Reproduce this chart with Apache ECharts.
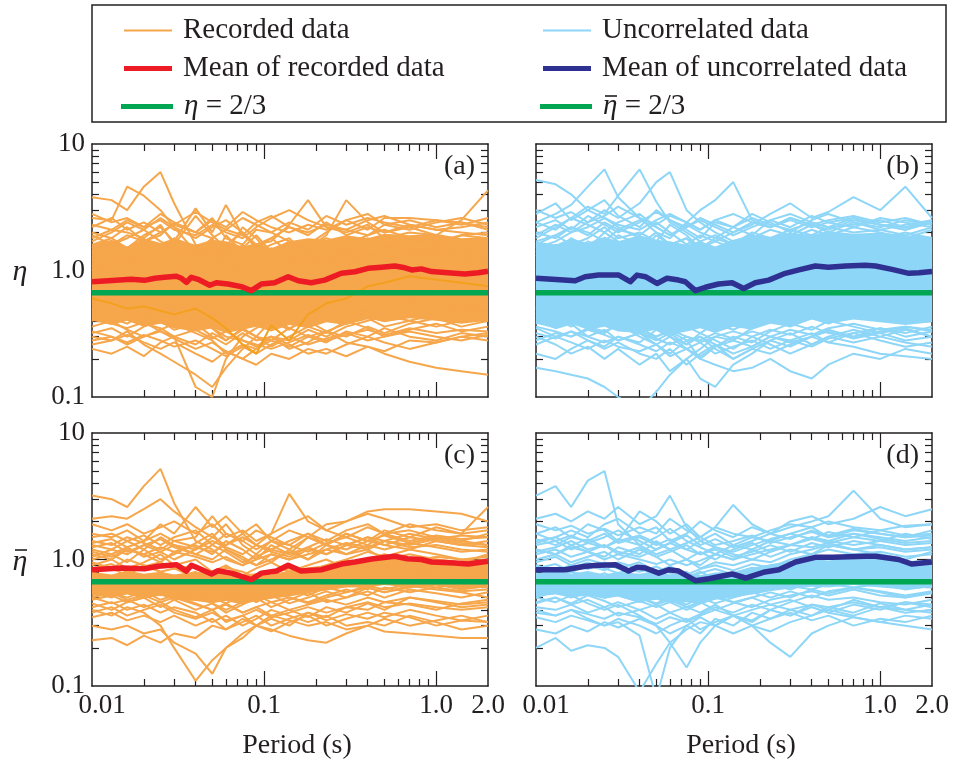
<!DOCTYPE html>
<html>
<head>
<meta charset="utf-8">
<title>eta ratio vs period</title>
<script src="https://cdn.jsdelivr.net/npm/echarts@6/dist/echarts.min.js"></script>
<style>
    html, body { margin: 0; padding: 0; background: #fff; }
    #main { width: 958px; height: 770px; }
</style>
</head>
<body>
<div id="main"></div>
<script>
// periods (s) at which every thin curve is sampled
var periods = [0.01, 0.013, 0.016, 0.02, 0.025, 0.03, 0.04, 0.05, 0.06, 0.075, 0.09, 0.11, 0.14, 0.18, 0.23, 0.3, 0.4, 0.5, 0.7, 1.0, 1.4, 2.0];

// (a) recorded data, eta
var recordedA = [
    [3.8, 3.6, 3.0, 4.6, 6.0, 3.4, 1.6, 1.3, 1.1, 0.9, 0.8, 0.9, 1.0, 1.2, 1.1, 1.3, 1.2, 1.0, 1.1, 0.9, 1.0, 1.1],
    [2.6, 2.5, 4.6, 3.9, 3.0, 2.2, 1.4, 1.8, 1.2, 1.0, 1.1, 1.3, 0.9, 0.8, 1.0, 1.1, 1.4, 1.2, 1.3, 1.5, 1.2, 1.3],
    [2.3, 2.1, 2.0, 1.8, 2.3, 1.6, 2.7, 1.9, 1.5, 1.2, 1.4, 1.6, 1.8, 1.3, 1.1, 1.5, 1.7, 1.6, 1.4, 1.3, 1.5, 1.6],
    [1.6, 1.8, 1.5, 1.9, 2.2, 1.7, 3.1, 2.0, 3.3, 1.9, 1.6, 1.7, 2.3, 3.6, 2.2, 2.0, 2.3, 1.8, 2.0, 1.9, 1.7, 1.8],
    [1.2, 1.4, 1.1, 1.3, 1.0, 1.2, 1.4, 1.1, 1.6, 2.0, 1.5, 1.8, 1.4, 1.6, 2.0, 2.5, 2.1, 2.6, 2.6, 2.5, 2.4, 2.2],
    [1.0, 1.1, 1.3, 1.2, 1.5, 1.4, 1.2, 1.6, 1.3, 1.5, 1.9, 1.4, 1.7, 1.5, 1.9, 3.6, 2.4, 2.0, 2.2, 1.9, 2.5, 4.3],
    [0.45, 0.5, 0.42, 0.38, 0.35, 0.3, 0.12, 0.1, 0.2, 0.3, 0.35, 0.4, 0.45, 0.38, 0.5, 0.55, 0.48, 0.52, 0.6, 0.55, 0.5, 0.58],
    [0.3, 0.28, 0.33, 0.26, 0.22, 0.19, 0.15, 0.12, 0.17, 0.24, 0.3, 0.28, 0.35, 0.4, 0.33, 0.38, 0.42, 0.36, 0.4, 0.45, 0.42, 0.4],
    [0.24, 0.22, 0.25, 0.21, 0.27, 0.3, 0.26, 0.32, 0.28, 0.35, 0.3, 0.4, 0.34, 0.45, 0.5, 0.42, 0.47, 0.55, 0.5, 0.46, 0.52, 0.48],
    [0.7, 0.6, 0.65, 0.55, 0.6, 0.5, 0.55, 0.48, 0.4, 0.45, 0.38, 0.42, 0.35, 0.3, 0.33, 0.27, 0.25, 0.22, 0.19, 0.17, 0.16, 0.15],
    [0.55, 0.6, 0.5, 0.45, 0.52, 0.48, 0.4, 0.35, 0.3, 0.28, 0.25, 0.3, 0.26, 0.22, 0.24, 0.21, 0.25, 0.23, 0.28, 0.27, 0.3, 0.32],
    [1.5, 1.7, 1.4, 1.6, 1.3, 1.8, 1.5, 1.2, 1.9, 1.4, 1.2, 1.5, 1.3, 1.1, 1.6, 1.4, 1.8, 1.5, 1.7, 1.6, 1.9, 1.8],
    [0.6, 0.7, 0.65, 0.8, 0.7, 0.55, 0.75, 0.6, 0.5, 0.65, 0.55, 0.7, 0.6, 0.8, 0.7, 0.9, 0.75, 0.85, 0.8, 0.9, 0.75, 0.8],
    [1.1, 0.95, 1.2, 1.0, 1.3, 1.1, 0.9, 1.4, 1.2, 1.6, 1.3, 1.0, 1.2, 1.4, 1.1, 1.3, 1.0, 1.2, 1.5, 1.3, 1.1, 1.2],
    [0.4, 0.45, 0.5, 0.42, 0.55, 0.48, 0.6, 0.45, 0.38, 0.5, 0.42, 0.55, 0.5, 0.6, 0.45, 0.4, 0.5, 0.45, 0.55, 0.6, 0.5, 0.45],
    [0.85, 0.75, 0.9, 1.0, 0.8, 0.95, 1.1, 0.85, 0.7, 0.8, 0.65, 0.75, 0.9, 0.8, 1.0, 1.2, 1.1, 1.3, 1.2, 1.4, 1.3, 1.2],
    [1.9, 1.6, 1.8, 2.1, 1.7, 1.5, 1.3, 1.6, 1.4, 2.2, 1.8, 1.3, 1.1, 1.4, 1.2, 1.6, 1.3, 1.5, 1.8, 1.6, 1.4, 1.5],
    [0.32, 0.35, 0.3, 0.36, 0.4, 0.34, 0.38, 0.3, 0.26, 0.32, 0.28, 0.3, 0.24, 0.27, 0.33, 0.3, 0.36, 0.32, 0.38, 0.42, 0.36, 0.4],
    [1.3, 1.2, 1.0, 1.15, 0.95, 1.05, 0.85, 1.0, 1.15, 0.9, 1.0, 0.8, 1.05, 0.9, 1.25, 1.1, 1.4, 1.2, 1.0, 1.1, 1.3, 1.4],
    [0.7, 0.8, 0.6, 0.7, 0.62, 0.72, 0.5, 0.58, 0.66, 0.5, 0.45, 0.52, 0.6, 0.5, 0.65, 0.55, 0.62, 0.7, 0.6, 0.68, 0.72, 0.65],
    [2.0, 1.8, 2.2, 1.7, 1.9, 2.4, 2.0, 2.6, 1.8, 1.6, 2.1, 2.0, 1.7, 1.5, 1.8, 1.6, 1.9, 2.1, 1.8, 1.7, 1.9, 2.0],
    [0.5, 0.42, 0.38, 0.45, 0.4, 0.36, 0.42, 0.35, 0.28, 0.34, 0.3, 0.25, 0.3, 0.36, 0.32, 0.4, 0.35, 0.3, 0.34, 0.38, 0.33, 0.36],
    [1.0, 1.15, 0.9, 0.8, 0.95, 0.85, 1.0, 0.75, 0.85, 0.7, 0.8, 0.9, 0.75, 0.85, 0.95, 0.8, 0.9, 1.05, 0.9, 1.0, 0.85, 0.9],
    [0.28, 0.3, 0.26, 0.3, 0.34, 0.38, 0.32, 0.28, 0.22, 0.26, 0.24, 0.3, 0.28, 0.34, 0.3, 0.36, 0.4, 0.44, 0.4, 0.36, 0.4, 0.42],
    [1.7, 2.0, 2.4, 2.1, 2.6, 2.2, 1.8, 2.2, 2.5, 2.0, 1.6, 1.8, 2.2, 1.9, 2.4, 1.9, 2.2, 2.0, 2.3, 2.1, 2.0, 1.9],
    [2.2, 2.6, 2.1, 2.4, 2.0, 2.3, 2.9, 2.4, 2.1, 2.6, 2.3, 2.0, 2.4, 2.1, 2.7, 2.3, 2.6, 2.4, 2.2, 2.5, 2.3, 2.6],
    [1.8, 2.1, 2.5, 2.2, 2.8, 2.4, 2.0, 2.5, 2.2, 2.9, 2.5, 2.2, 2.0, 2.3, 2.1, 2.5, 2.8, 2.3, 2.5, 2.2, 2.4, 2.1],
    [0.33, 0.3, 0.27, 0.31, 0.28, 0.25, 0.28, 0.24, 0.21, 0.25, 0.22, 0.26, 0.3, 0.26, 0.29, 0.32, 0.28, 0.3, 0.33, 0.3, 0.28, 0.31],
    [0.36, 0.4, 0.34, 0.3, 0.33, 0.29, 0.24, 0.27, 0.23, 0.2, 0.24, 0.28, 0.25, 0.3, 0.27, 0.33, 0.3, 0.35, 0.3, 0.28, 0.32, 0.3],
    [2.8, 2.4, 2.6, 2.2, 2.5, 2.1, 1.9, 2.3, 2.0, 1.8, 2.2, 2.6, 3.0, 2.5, 2.2, 2.1, 2.5, 2.7, 2.3, 2.1, 2.2, 2.4],
    [0.26, 0.28, 0.31, 0.27, 0.24, 0.27, 0.22, 0.19, 0.23, 0.2, 0.18, 0.22, 0.2, 0.24, 0.22, 0.26, 0.3, 0.27, 0.24, 0.27, 0.3, 0.28],
    [1.4, 1.6, 1.9, 1.7, 2.0, 2.3, 2.0, 1.8, 2.1, 1.9, 2.4, 2.7, 2.2, 2.0, 2.3, 2.1, 1.9, 2.3, 2.1, 2.4, 2.6, 2.3],
    [0.42, 0.38, 0.35, 0.39, 0.33, 0.3, 0.34, 0.29, 0.33, 0.28, 0.26, 0.24, 0.27, 0.31, 0.28, 0.31, 0.34, 0.31, 0.35, 0.32, 0.34, 0.33]
];
// the one darker record that climbs out of the trough near 0.1 s
var recordedAHighlight = [0.6, 0.55, 0.5, 0.52, 0.48, 0.45, 0.5, 0.42, 0.35, 0.26, 0.22, 0.37, 0.28, 0.45, 0.55, 0.6, 0.75, 0.8, 0.9, 0.85, 0.8, 0.75];
// envelope of the part of the bundle that is solid colour
var coreALow = [0.4, 0.37, 0.4, 0.36, 0.38, 0.35, 0.33, 0.35, 0.32, 0.34, 0.36, 0.33, 0.37, 0.35, 0.39, 0.37, 0.42, 0.39, 0.42, 0.4, 0.38, 0.4];
var coreAHigh = [1.6, 1.75, 1.55, 1.8, 1.65, 1.8, 1.6, 1.75, 1.7, 1.55, 1.65, 1.5, 1.7, 1.8, 1.75, 1.9, 1.8, 1.95, 1.9, 1.95, 1.8, 1.85];

// (b) uncorrelated data, eta
var uncorrelatedB = [
    [5.2, 4.8, 4.0, 3.0, 2.6, 2.2, 1.8, 1.5, 1.3, 1.2, 1.4, 1.1, 1.3, 1.0, 1.2, 1.4, 1.1, 1.3, 1.2, 1.4, 1.3, 1.5],
    [2.4, 2.8, 3.3, 4.6, 6.3, 3.8, 2.6, 2.0, 1.6, 1.8, 1.4, 1.2, 1.5, 1.3, 1.7, 1.5, 1.6, 1.4, 1.8, 1.6, 1.5, 1.7],
    [1.8, 2.2, 2.6, 3.2, 2.8, 3.9, 6.3, 3.5, 2.4, 2.0, 1.7, 1.9, 1.6, 1.4, 1.8, 1.6, 1.9, 1.7, 1.5, 1.8, 2.0, 1.8],
    [1.5, 1.7, 2.0, 2.4, 3.0, 2.6, 3.4, 5.0, 6.0, 3.0, 2.4, 2.0, 1.7, 1.9, 1.6, 1.8, 2.1, 1.9, 2.2, 2.0, 1.8, 2.1],
    [1.3, 1.5, 1.2, 1.6, 1.4, 1.9, 1.6, 2.0, 1.8, 2.4, 3.0, 3.6, 5.0, 2.5, 2.2, 2.6, 2.3, 2.0, 2.4, 2.1, 2.3, 2.5],
    [1.6, 1.4, 1.8, 1.5, 2.0, 1.7, 1.4, 1.9, 1.6, 1.8, 1.5, 1.7, 2.0, 2.3, 2.8, 3.4, 2.6, 2.9, 3.8, 3.0, 4.6, 2.6],
    [2.8, 3.4, 2.5, 3.0, 3.6, 2.7, 2.2, 3.0, 2.5, 2.1, 1.8, 2.4, 2.2, 2.8, 2.4, 2.0, 2.5, 2.8, 2.4, 2.2, 2.5, 2.3],
    [0.17, 0.16, 0.15, 0.14, 0.12, 0.1, 0.08, 0.11, 0.15, 0.2, 0.24, 0.3, 0.28, 0.35, 0.4, 0.36, 0.42, 0.38, 0.45, 0.4, 0.42, 0.4],
    [0.3, 0.26, 0.22, 0.25, 0.2, 0.24, 0.18, 0.22, 0.16, 0.2, 0.14, 0.12, 0.18, 0.22, 0.28, 0.25, 0.3, 0.27, 0.32, 0.35, 0.3, 0.33],
    [0.4, 0.35, 0.38, 0.3, 0.34, 0.28, 0.32, 0.26, 0.3, 0.24, 0.2, 0.18, 0.16, 0.17, 0.2, 0.16, 0.14, 0.18, 0.22, 0.2, 0.24, 0.22],
    [0.5, 0.45, 0.4, 0.45, 0.38, 0.42, 0.35, 0.3, 0.33, 0.28, 0.3, 0.26, 0.22, 0.25, 0.3, 0.28, 0.32, 0.27, 0.25, 0.22, 0.21, 0.2],
    [0.22, 0.2, 0.24, 0.28, 0.25, 0.3, 0.27, 0.34, 0.3, 0.26, 0.32, 0.28, 0.24, 0.3, 0.26, 0.22, 0.26, 0.3, 0.34, 0.3, 0.27, 0.25],
    [1.4, 1.6, 1.3, 1.7, 1.5, 1.3, 1.6, 1.4, 1.2, 1.5, 1.7, 1.4, 1.6, 1.8, 1.5, 1.7, 1.9, 1.6, 1.8, 1.9, 1.7, 1.6],
    [0.6, 0.55, 0.7, 0.62, 0.5, 0.58, 0.66, 0.5, 0.56, 0.46, 0.52, 0.6, 0.54, 0.64, 0.56, 0.7, 0.62, 0.72, 0.66, 0.74, 0.64, 0.7],
    [1.0, 1.1, 0.9, 1.2, 1.05, 0.9, 1.15, 1.3, 1.0, 1.2, 0.95, 1.1, 1.25, 1.1, 1.35, 1.2, 1.4, 1.3, 1.15, 1.3, 1.2, 1.1],
    [0.38, 0.42, 0.36, 0.44, 0.4, 0.34, 0.4, 0.36, 0.3, 0.36, 0.32, 0.38, 0.34, 0.4, 0.46, 0.42, 0.5, 0.46, 0.42, 0.48, 0.44, 0.5],
    [2.0, 1.8, 2.2, 2.0, 1.7, 2.1, 1.9, 2.4, 2.0, 1.6, 1.9, 1.7, 1.5, 1.8, 2.1, 1.9, 2.3, 2.1, 2.5, 2.3, 2.1, 2.4],
    [0.8, 0.9, 0.75, 0.85, 0.7, 0.8, 0.9, 0.7, 0.78, 0.62, 0.7, 0.8, 0.72, 0.85, 0.9, 1.0, 0.95, 1.1, 1.0, 1.05, 0.95, 1.0],
    [0.28, 0.32, 0.3, 0.35, 0.32, 0.38, 0.3, 0.26, 0.22, 0.28, 0.2, 0.25, 0.3, 0.27, 0.33, 0.38, 0.34, 0.4, 0.36, 0.32, 0.35, 0.3],
    [1.2, 1.3, 1.5, 1.25, 1.4, 1.6, 1.3, 1.1, 1.35, 1.0, 1.2, 1.0, 1.15, 1.3, 1.2, 1.45, 1.6, 1.5, 1.7, 1.45, 1.6, 1.5],
    [0.5, 0.6, 0.52, 0.45, 0.55, 0.48, 0.42, 0.5, 0.4, 0.45, 0.38, 0.44, 0.5, 0.42, 0.5, 0.46, 0.54, 0.5, 0.58, 0.52, 0.6, 0.56],
    [0.35, 0.3, 0.33, 0.28, 0.24, 0.27, 0.22, 0.2, 0.24, 0.18, 0.22, 0.26, 0.2, 0.24, 0.28, 0.32, 0.26, 0.3, 0.27, 0.3, 0.34, 0.3],
    [2.4, 2.1, 2.6, 2.3, 2.0, 2.4, 2.8, 2.2, 1.9, 2.3, 2.0, 1.8, 2.2, 1.9, 2.5, 2.2, 2.7, 2.4, 2.6, 2.3, 2.2, 2.5],
    [0.7, 0.65, 0.8, 0.72, 0.9, 0.78, 0.68, 0.82, 0.7, 0.6, 0.66, 0.58, 0.64, 0.72, 0.66, 0.78, 0.7, 0.82, 0.76, 0.84, 0.78, 0.8],
    [0.45, 0.5, 0.44, 0.38, 0.42, 0.36, 0.32, 0.28, 0.32, 0.26, 0.3, 0.24, 0.2, 0.24, 0.22, 0.26, 0.3, 0.34, 0.3, 0.35, 0.32, 0.36],
    [1.7, 1.9, 1.6, 1.8, 2.2, 1.8, 2.0, 1.7, 2.3, 1.9, 1.5, 1.8, 1.6, 2.0, 1.8, 2.1, 1.9, 2.2, 2.0, 2.1, 1.9, 2.2],
    [2.2, 2.5, 2.1, 2.7, 2.3, 2.0, 2.4, 2.9, 2.5, 2.2, 2.6, 2.3, 2.0, 2.4, 2.2, 2.6, 2.3, 2.5, 2.7, 2.4, 2.6, 2.3],
    [1.9, 2.3, 2.0, 2.2, 2.6, 2.3, 2.1, 2.5, 2.8, 2.4, 2.1, 2.5, 2.2, 2.6, 2.3, 2.1, 2.4, 2.2, 2.3, 2.5, 2.2, 2.4],
    [0.32, 0.29, 0.33, 0.3, 0.27, 0.3, 0.26, 0.23, 0.27, 0.24, 0.21, 0.25, 0.28, 0.25, 0.3, 0.27, 0.3, 0.33, 0.29, 0.32, 0.28, 0.3],
    [0.26, 0.3, 0.27, 0.24, 0.28, 0.25, 0.23, 0.26, 0.21, 0.24, 0.27, 0.22, 0.25, 0.28, 0.24, 0.28, 0.25, 0.29, 0.32, 0.28, 0.25, 0.27],
    [3.0, 2.6, 2.9, 2.4, 2.7, 3.2, 2.6, 2.3, 2.7, 2.4, 2.1, 2.5, 2.8, 2.4, 2.2, 2.5, 2.2, 2.4, 2.2, 2.6, 2.4, 2.2],
    [0.36, 0.33, 0.3, 0.34, 0.31, 0.28, 0.32, 0.29, 0.26, 0.3, 0.27, 0.3, 0.33, 0.3, 0.34, 0.31, 0.36, 0.32, 0.3, 0.33, 0.36, 0.33],
    [1.6, 1.9, 2.2, 1.9, 2.4, 2.1, 2.5, 2.2, 1.9, 2.2, 2.5, 2.2, 1.9, 2.2, 2.5, 2.8, 2.4, 2.2, 2.6, 2.3, 2.1, 2.4],
    [0.42, 0.38, 0.41, 0.36, 0.33, 0.37, 0.33, 0.3, 0.34, 0.3, 0.28, 0.32, 0.29, 0.33, 0.3, 0.34, 0.31, 0.35, 0.38, 0.34, 0.36, 0.34]
];
var coreBLow = [0.38, 0.35, 0.38, 0.34, 0.36, 0.33, 0.32, 0.34, 0.31, 0.33, 0.35, 0.32, 0.36, 0.34, 0.38, 0.36, 0.41, 0.38, 0.41, 0.39, 0.37, 0.39];
var coreBHigh = [1.7, 1.6, 1.8, 1.65, 1.85, 1.7, 1.9, 1.75, 1.7, 1.6, 1.7, 1.55, 1.75, 1.9, 1.85, 2.0, 1.9, 2.05, 1.95, 2.0, 1.9, 1.85];

// (c) recorded data, eta bar
var recordedC = [
    [3.2, 3.0, 2.6, 3.8, 5.2, 2.8, 1.4, 1.2, 1.0, 0.9, 1.1, 0.95, 1.2, 1.0, 1.3, 1.1, 1.2, 1.0, 1.1, 1.0, 0.95, 1.1],
    [2.1, 2.2, 2.1, 2.5, 3.0, 2.4, 1.8, 1.5, 1.9, 1.3, 1.1, 1.4, 1.2, 1.5, 1.3, 1.6, 1.4, 1.3, 1.5, 1.4, 1.3, 1.4],
    [1.6, 1.5, 1.7, 1.4, 1.9, 1.6, 2.6, 1.8, 2.2, 1.6, 1.3, 1.6, 3.3, 2.0, 1.7, 2.0, 2.3, 2.1, 1.8, 1.9, 1.7, 1.8],
    [1.3, 1.2, 1.4, 1.2, 1.5, 1.3, 1.2, 1.5, 1.3, 1.6, 1.9, 1.4, 1.7, 1.5, 1.9, 2.0, 2.4, 2.5, 2.5, 2.4, 2.3, 2.0],
    [1.1, 1.0, 1.2, 1.1, 0.95, 1.15, 1.3, 1.1, 1.4, 1.2, 1.0, 1.3, 1.1, 1.5, 1.3, 1.6, 1.4, 1.7, 1.5, 1.8, 1.6, 2.6],
    [0.23, 0.24, 0.21, 0.25, 0.22, 0.26, 0.24, 0.3, 0.28, 0.34, 0.3, 0.36, 0.4, 0.35, 0.42, 0.38, 0.45, 0.4, 0.5, 0.46, 0.42, 0.44],
    [0.4, 0.36, 0.42, 0.38, 0.3, 0.2, 0.11, 0.16, 0.2, 0.26, 0.3, 0.34, 0.3, 0.38, 0.35, 0.42, 0.4, 0.46, 0.44, 0.4, 0.45, 0.48],
    [0.3, 0.28, 0.3, 0.26, 0.28, 0.22, 0.18, 0.125, 0.2, 0.24, 0.3, 0.27, 0.32, 0.36, 0.3, 0.34, 0.38, 0.35, 0.4, 0.36, 0.33, 0.36],
    [0.6, 0.55, 0.5, 0.56, 0.48, 0.52, 0.45, 0.4, 0.45, 0.38, 0.42, 0.36, 0.33, 0.3, 0.32, 0.28, 0.3, 0.27, 0.26, 0.25, 0.24, 0.24],
    [0.5, 0.45, 0.48, 0.42, 0.46, 0.4, 0.35, 0.4, 0.32, 0.36, 0.3, 0.28, 0.25, 0.23, 0.22, 0.26, 0.3, 0.34, 0.3, 0.33, 0.36, 0.32],
    [1.5, 1.6, 1.4, 1.55, 1.3, 1.5, 1.7, 1.3, 1.6, 1.4, 1.2, 1.4, 1.3, 1.15, 1.35, 1.5, 1.3, 1.6, 1.4, 1.55, 1.45, 1.5],
    [0.6, 0.65, 0.55, 0.62, 0.7, 0.58, 0.5, 0.62, 0.55, 0.48, 0.56, 0.5, 0.58, 0.52, 0.6, 0.66, 0.58, 0.7, 0.62, 0.68, 0.6, 0.64],
    [0.9, 1.0, 0.85, 0.95, 1.1, 0.9, 1.0, 0.8, 0.9, 0.75, 0.85, 0.95, 0.8, 0.9, 1.0, 0.85, 1.0, 1.1, 0.95, 1.05, 1.0, 0.95],
    [0.45, 0.4, 0.46, 0.5, 0.42, 0.48, 0.4, 0.45, 0.38, 0.44, 0.5, 0.42, 0.48, 0.55, 0.46, 0.5, 0.56, 0.5, 0.58, 0.54, 0.5, 0.55],
    [1.2, 1.1, 1.25, 1.05, 1.15, 1.3, 1.1, 1.0, 1.2, 1.05, 0.9, 1.0, 1.15, 1.0, 1.2, 1.1, 1.3, 1.2, 1.35, 1.25, 1.15, 1.2],
    [0.75, 0.7, 0.8, 0.7, 0.65, 0.75, 0.6, 0.7, 0.62, 0.55, 0.62, 0.7, 0.6, 0.68, 0.74, 0.65, 0.72, 0.8, 0.7, 0.76, 0.7, 0.74],
    [1.9, 1.7, 1.9, 1.6, 1.8, 2.0, 1.6, 1.9, 1.5, 1.7, 1.4, 1.6, 1.9, 2.2, 1.7, 1.5, 1.8, 1.6, 1.9, 1.7, 1.6, 1.7],
    [0.35, 0.38, 0.33, 0.36, 0.32, 0.36, 0.3, 0.34, 0.28, 0.32, 0.36, 0.3, 0.34, 0.38, 0.33, 0.37, 0.34, 0.38, 0.35, 0.3, 0.33, 0.32],
    [0.55, 0.5, 0.58, 0.52, 0.6, 0.5, 0.55, 0.48, 0.52, 0.6, 0.5, 0.56, 0.5, 0.46, 0.52, 0.58, 0.52, 0.6, 0.55, 0.6, 0.65, 0.6],
    [1.0, 1.1, 0.95, 1.2, 1.0, 1.1, 1.35, 1.6, 1.2, 1.0, 0.9, 1.1, 1.0, 1.2, 1.1, 1.3, 1.5, 1.3, 1.2, 1.4, 1.3, 1.25],
    [0.8, 0.85, 0.75, 0.9, 0.8, 0.7, 0.8, 0.65, 0.72, 0.62, 0.68, 0.6, 0.66, 0.74, 0.82, 0.9, 0.84, 0.9, 0.78, 0.86, 0.8, 0.84],
    [0.65, 0.6, 0.7, 0.6, 0.55, 0.62, 0.56, 0.5, 0.45, 0.52, 0.46, 0.52, 0.45, 0.5, 0.56, 0.5, 0.6, 0.55, 0.62, 0.58, 0.55, 0.5],
    [1.35, 1.45, 1.25, 1.4, 1.6, 1.4, 1.5, 2.2, 1.6, 1.4, 1.7, 1.5, 1.3, 1.6, 1.4, 1.7, 1.9, 1.6, 1.7, 1.5, 1.4, 1.6],
    [0.42, 0.46, 0.4, 0.44, 0.38, 0.42, 0.38, 0.32, 0.36, 0.3, 0.34, 0.4, 0.36, 0.32, 0.36, 0.3, 0.32, 0.3, 0.36, 0.32, 0.28, 0.3],
    [0.95, 0.85, 1.0, 0.9, 0.8, 0.85, 0.72, 0.8, 0.68, 0.75, 0.7, 0.78, 0.85, 0.75, 0.9, 1.0, 1.15, 1.05, 1.2, 1.1, 1.0, 1.05],
    [1.25, 1.35, 1.15, 1.3, 1.45, 1.25, 1.1, 1.3, 1.15, 0.95, 1.05, 1.2, 1.4, 1.6, 1.3, 1.2, 1.4, 1.55, 1.35, 1.5, 1.4, 1.3],
    [0.7, 0.62, 0.68, 0.75, 0.64, 0.7, 0.6, 0.55, 0.6, 0.52, 0.58, 0.5, 0.56, 0.62, 0.58, 0.66, 0.62, 0.7, 0.66, 0.72, 0.68, 0.72],
    [0.5, 0.55, 0.48, 0.52, 0.46, 0.5, 0.44, 0.4, 0.44, 0.38, 0.42, 0.46, 0.4, 0.44, 0.48, 0.44, 0.5, 0.46, 0.5, 0.47, 0.44, 0.46],
    [1.05, 1.2, 1.1, 1.3, 1.15, 1.0, 1.2, 1.4, 1.25, 1.1, 1.3, 1.15, 1.05, 1.25, 1.1, 1.3, 1.2, 1.4, 1.3, 1.45, 1.35, 1.3],
    [0.72, 0.66, 0.76, 0.68, 0.74, 0.64, 0.7, 0.6, 0.66, 0.58, 0.64, 0.72, 0.66, 0.6, 0.68, 0.74, 0.7, 0.8, 0.74, 0.82, 0.76, 0.8],
    [0.48, 0.52, 0.46, 0.5, 0.55, 0.48, 0.52, 0.45, 0.4, 0.46, 0.52, 0.46, 0.5, 0.45, 0.5, 0.55, 0.6, 0.55, 0.6, 0.64, 0.58, 0.62],
    [1.4, 1.3, 1.5, 1.35, 1.2, 1.4, 1.25, 1.15, 1.3, 1.5, 1.3, 1.2, 1.1, 1.25, 1.45, 1.3, 1.5, 1.4, 1.6, 1.45, 1.55, 1.5],
    [0.85, 0.92, 0.8, 0.88, 0.95, 0.84, 0.9, 0.78, 0.86, 0.8, 0.72, 0.8, 0.9, 0.82, 0.9, 0.98, 0.92, 1.0, 0.94, 0.9, 0.96, 1.0],
    [0.38, 0.42, 0.36, 0.4, 0.44, 0.38, 0.34, 0.38, 0.33, 0.36, 0.4, 0.35, 0.38, 0.42, 0.38, 0.42, 0.46, 0.42, 0.45, 0.42, 0.4, 0.42],
    [0.62, 0.56, 0.64, 0.58, 0.52, 0.58, 0.52, 0.56, 0.5, 0.55, 0.6, 0.54, 0.6, 0.65, 0.6, 0.55, 0.62, 0.58, 0.64, 0.6, 0.56, 0.58],
    [1.15, 1.05, 1.2, 1.1, 1.25, 1.15, 1.05, 0.95, 1.05, 0.9, 1.0, 1.1, 1.0, 1.1, 1.2, 1.35, 1.25, 1.4, 1.25, 1.3, 1.2, 1.15]
];
var coreCLow = [0.52, 0.5, 0.53, 0.49, 0.52, 0.48, 0.47, 0.45, 0.47, 0.44, 0.47, 0.49, 0.51, 0.54, 0.57, 0.6, 0.6, 0.63, 0.6, 0.62, 0.58, 0.6];
var coreCHigh = [0.8, 0.76, 0.82, 0.77, 0.8, 0.76, 0.8, 0.78, 0.82, 0.76, 0.78, 0.76, 0.82, 0.87, 0.9, 0.95, 0.98, 1.03, 1.0, 1.02, 0.96, 0.98];

// (d) uncorrelated data, eta bar
var uncorrelatedD = [
    [3.2, 3.8, 2.6, 4.2, 5.0, 1.9, 1.3, 1.1, 1.2, 1.0, 0.9, 1.1, 1.0, 1.2, 1.05, 1.2, 1.1, 1.3, 1.2, 1.1, 1.0, 1.15],
    [2.1, 2.3, 2.0, 2.4, 2.1, 2.6, 1.9, 2.2, 3.2, 1.8, 1.4, 1.6, 1.3, 1.5, 1.4, 1.6, 1.8, 1.5, 1.7, 1.6, 1.5, 1.7],
    [1.6, 1.8, 1.5, 1.9, 1.7, 1.4, 2.4, 2.0, 1.6, 1.9, 1.5, 1.8, 2.7, 1.9, 1.6, 1.8, 2.0, 2.2, 3.5, 2.1, 1.8, 1.9],
    [1.4, 1.5, 1.7, 1.5, 1.9, 2.1, 1.6, 1.8, 1.4, 1.6, 2.0, 1.7, 1.5, 1.8, 1.6, 2.0, 2.2, 1.9, 2.1, 2.6, 2.2, 2.5],
    [0.2, 0.24, 0.19, 0.21, 0.2, 0.17, 0.09, 0.15, 0.22, 0.28, 0.32, 0.3, 0.36, 0.33, 0.4, 0.36, 0.42, 0.38, 0.44, 0.4, 0.46, 0.42],
    [0.4, 0.36, 0.4, 0.34, 0.3, 0.32, 0.25, 0.08, 0.2, 0.3, 0.26, 0.34, 0.3, 0.38, 0.34, 0.4, 0.36, 0.42, 0.38, 0.45, 0.4, 0.38],
    [0.5, 0.46, 0.52, 0.45, 0.4, 0.44, 0.36, 0.3, 0.22, 0.14, 0.22, 0.3, 0.36, 0.32, 0.4, 0.36, 0.44, 0.4, 0.48, 0.42, 0.46, 0.44],
    [0.6, 0.55, 0.62, 0.55, 0.5, 0.58, 0.5, 0.45, 0.5, 0.42, 0.38, 0.44, 0.36, 0.3, 0.22, 0.17, 0.26, 0.3, 0.35, 0.32, 0.36, 0.34],
    [0.45, 0.5, 0.44, 0.48, 0.42, 0.46, 0.4, 0.44, 0.38, 0.42, 0.46, 0.4, 0.45, 0.5, 0.44, 0.48, 0.42, 0.38, 0.35, 0.32, 0.3, 0.28],
    [1.2, 1.1, 1.3, 1.15, 1.05, 1.25, 1.1, 1.4, 1.2, 1.0, 1.15, 1.0, 1.2, 1.35, 1.15, 1.3, 1.5, 1.4, 1.6, 1.45, 1.35, 1.4],
    [0.62, 0.58, 0.66, 0.6, 0.54, 0.62, 0.56, 0.5, 0.58, 0.48, 0.54, 0.6, 0.52, 0.58, 0.64, 0.58, 0.66, 0.7, 0.64, 0.7, 0.66, 0.6],
    [0.85, 0.92, 0.8, 0.9, 0.82, 0.95, 0.85, 0.75, 0.88, 0.72, 0.8, 0.7, 0.78, 0.86, 0.8, 0.92, 1.0, 0.94, 1.05, 0.98, 0.9, 0.95],
    [1.6, 1.4, 1.55, 1.35, 1.5, 1.7, 1.4, 1.2, 1.35, 1.55, 1.3, 1.45, 1.25, 1.4, 1.6, 1.45, 1.7, 1.55, 1.75, 1.6, 1.5, 1.55],
    [0.35, 0.32, 0.36, 0.33, 0.3, 0.34, 0.3, 0.26, 0.3, 0.34, 0.28, 0.32, 0.36, 0.3, 0.34, 0.38, 0.33, 0.36, 0.3, 0.34, 0.32, 0.36],
    [0.75, 0.7, 0.8, 0.72, 0.66, 0.74, 0.68, 0.6, 0.7, 0.62, 0.56, 0.64, 0.6, 0.7, 0.64, 0.72, 0.8, 0.74, 0.82, 0.76, 0.7, 0.74],
    [1.0, 1.1, 0.95, 1.05, 1.15, 1.0, 1.2, 1.05, 0.9, 1.0, 0.85, 0.95, 0.9, 1.0, 0.95, 1.1, 1.2, 1.3, 1.2, 1.25, 1.15, 1.2],
    [0.5, 0.56, 0.5, 0.55, 0.6, 0.52, 0.46, 0.55, 0.5, 0.44, 0.5, 0.45, 0.5, 0.55, 0.5, 0.56, 0.5, 0.56, 0.6, 0.55, 0.5, 0.55],
    [1.9, 1.7, 1.85, 1.6, 1.75, 1.55, 1.8, 1.6, 2.1, 1.7, 1.5, 1.8, 1.6, 1.5, 1.7, 1.9, 1.8, 2.0, 1.8, 1.7, 1.85, 1.9],
    [0.28, 0.26, 0.3, 0.27, 0.32, 0.29, 0.34, 0.3, 0.26, 0.3, 0.35, 0.3, 0.26, 0.3, 0.27, 0.32, 0.36, 0.4, 0.36, 0.42, 0.38, 0.4],
    [1.3, 1.4, 1.2, 1.35, 1.25, 1.45, 1.3, 1.5, 1.75, 1.4, 1.25, 1.1, 1.3, 1.2, 1.4, 1.3, 1.5, 1.4, 1.3, 1.4, 1.6, 1.45],
    [0.42, 0.4, 0.44, 0.38, 0.42, 0.36, 0.4, 0.34, 0.38, 0.33, 0.37, 0.42, 0.38, 0.44, 0.4, 0.46, 0.52, 0.48, 0.5, 0.46, 0.44, 0.48],
    [0.7, 0.75, 0.65, 0.7, 0.78, 0.7, 0.62, 0.68, 0.6, 0.54, 0.6, 0.66, 0.6, 0.56, 0.62, 0.7, 0.64, 0.72, 0.66, 0.7, 0.75, 0.7],
    [1.15, 1.25, 1.4, 1.2, 1.3, 1.1, 1.25, 1.05, 1.15, 1.3, 1.1, 1.2, 1.05, 1.15, 1.3, 1.15, 1.35, 1.25, 1.4, 1.3, 1.2, 1.25],
    [0.9, 0.8, 0.85, 0.95, 0.85, 0.78, 0.9, 0.82, 0.72, 0.8, 0.68, 0.76, 0.7, 0.8, 0.76, 0.86, 0.82, 0.9, 0.85, 0.95, 0.88, 0.85],
    [0.95, 1.05, 0.9, 1.0, 0.92, 0.85, 0.95, 0.8, 0.88, 0.76, 0.84, 0.9, 0.82, 0.92, 0.86, 1.0, 1.1, 1.2, 1.1, 1.15, 1.05, 1.1],
    [1.45, 1.3, 1.5, 1.4, 1.6, 1.35, 1.5, 1.3, 1.45, 1.2, 1.4, 1.25, 1.15, 1.3, 1.45, 1.6, 1.45, 1.65, 1.5, 1.7, 1.55, 1.6],
    [0.56, 0.6, 0.52, 0.58, 0.5, 0.55, 0.5, 0.44, 0.48, 0.42, 0.46, 0.52, 0.46, 0.5, 0.55, 0.5, 0.58, 0.54, 0.6, 0.56, 0.52, 0.56],
    [0.66, 0.7, 0.62, 0.66, 0.72, 0.64, 0.58, 0.64, 0.56, 0.5, 0.56, 0.62, 0.56, 0.62, 0.68, 0.62, 0.7, 0.66, 0.72, 0.68, 0.64, 0.66],
    [1.1, 1.2, 1.05, 1.15, 1.3, 1.15, 1.05, 1.2, 1.35, 1.2, 1.1, 1.25, 1.1, 1.0, 1.15, 1.3, 1.45, 1.35, 1.5, 1.4, 1.3, 1.35],
    [0.78, 0.72, 0.8, 0.74, 0.68, 0.74, 0.66, 0.72, 0.64, 0.7, 0.62, 0.68, 0.74, 0.66, 0.72, 0.8, 0.76, 0.85, 0.8, 0.86, 0.8, 0.82],
    [0.46, 0.5, 0.45, 0.52, 0.47, 0.42, 0.47, 0.42, 0.46, 0.4, 0.45, 0.5, 0.46, 0.42, 0.48, 0.52, 0.56, 0.52, 0.58, 0.52, 0.5, 0.54],
    [1.35, 1.5, 1.3, 1.45, 1.25, 1.4, 1.55, 1.35, 1.2, 1.35, 1.5, 1.3, 1.4, 1.55, 1.35, 1.5, 1.65, 1.5, 1.6, 1.5, 1.4, 1.5],
    [0.88, 0.82, 0.9, 0.84, 0.95, 0.86, 0.8, 0.88, 0.78, 0.7, 0.78, 0.84, 0.76, 0.84, 0.9, 0.96, 0.92, 1.02, 0.96, 1.0, 0.94, 0.98],
    [0.38, 0.36, 0.4, 0.37, 0.34, 0.38, 0.35, 0.31, 0.35, 0.32, 0.36, 0.4, 0.36, 0.4, 0.44, 0.4, 0.44, 0.42, 0.46, 0.42, 0.4, 0.44],
    [0.6, 0.64, 0.58, 0.62, 0.56, 0.6, 0.54, 0.58, 0.52, 0.56, 0.5, 0.55, 0.6, 0.54, 0.58, 0.62, 0.58, 0.64, 0.6, 0.64, 0.58, 0.62],
    [1.2, 1.1, 1.25, 1.15, 1.0, 1.1, 1.0, 0.92, 1.0, 0.9, 0.98, 1.1, 1.0, 1.1, 1.2, 1.3, 1.25, 1.35, 1.2, 1.3, 1.2, 1.25]
];
var coreDLow = [0.51, 0.53, 0.5, 0.52, 0.49, 0.51, 0.46, 0.48, 0.45, 0.46, 0.44, 0.48, 0.5, 0.53, 0.56, 0.59, 0.61, 0.6, 0.63, 0.6, 0.58, 0.6];
var coreDHigh = [0.78, 0.82, 0.77, 0.81, 0.76, 0.8, 0.77, 0.81, 0.76, 0.79, 0.75, 0.79, 0.8, 0.86, 0.91, 0.94, 1.0, 0.98, 1.04, 1.0, 0.97, 1.0];

// mean curves, each on its own period grid
var meanAPeriods = [0.01, 0.0124, 0.0169, 0.0202, 0.0232, 0.0264, 0.0309, 0.0331, 0.0354, 0.0378, 0.0413, 0.0483, 0.0528, 0.0616, 0.0737, 0.0843, 0.0965, 0.115, 0.138, 0.158, 0.188, 0.225, 0.281, 0.337, 0.402, 0.481, 0.575, 0.658, 0.72, 0.82, 0.94, 1.17, 1.47, 1.76, 2.0];
var meanA = [0.815, 0.83, 0.852, 0.836, 0.868, 0.884, 0.9, 0.868, 0.807, 0.884, 0.852, 0.764, 0.8, 0.782, 0.745, 0.693, 0.782, 0.8, 0.893, 0.83, 0.8, 0.84, 0.95, 0.978, 1.04, 1.06, 1.085, 1.05, 1.01, 1.03, 0.98, 0.96, 0.94, 0.96, 0.985];
var meanBPeriods = [0.01, 0.0124, 0.0169, 0.0193, 0.0231, 0.0303, 0.0353, 0.0386, 0.0432, 0.0505, 0.0577, 0.0674, 0.0737, 0.0844, 0.0965, 0.115, 0.138, 0.161, 0.188, 0.225, 0.281, 0.337, 0.42, 0.5, 0.63, 0.82, 0.94, 1.17, 1.47, 1.68, 2.0];
var meanB = [0.868, 0.852, 0.83, 0.893, 0.92, 0.92, 0.815, 0.92, 0.893, 0.79, 0.868, 0.84, 0.815, 0.693, 0.737, 0.782, 0.8, 0.72, 0.8, 0.84, 0.95, 1.01, 1.085, 1.06, 1.085, 1.1, 1.085, 1.02, 0.95, 0.96, 0.98];
var meanCPeriods = [0.01, 0.0148, 0.0202, 0.0242, 0.0309, 0.0354, 0.0378, 0.0413, 0.0495, 0.054, 0.0645, 0.0843, 0.0965, 0.118, 0.138, 0.164, 0.215, 0.281, 0.337, 0.42, 0.575, 0.68, 0.82, 0.94, 1.28, 1.53, 2.0];
var meanC = [0.83, 0.857, 0.846, 0.884, 0.91, 0.81, 0.9, 0.857, 0.768, 0.815, 0.78, 0.693, 0.78, 0.81, 0.9, 0.81, 0.83, 0.92, 0.956, 1.01, 1.06, 1.015, 1.0, 0.956, 0.94, 0.92, 0.97];
var meanDPeriods = [0.01, 0.0148, 0.0193, 0.0231, 0.029, 0.0345, 0.0386, 0.0432, 0.0517, 0.059, 0.0674, 0.0844, 0.101, 0.138, 0.165, 0.214, 0.258, 0.322, 0.42, 0.53, 0.82, 0.94, 1.28, 1.53, 2.0];
var meanD = [0.83, 0.83, 0.884, 0.9, 0.91, 0.81, 0.868, 0.857, 0.78, 0.83, 0.81, 0.68, 0.705, 0.768, 0.714, 0.797, 0.83, 0.956, 1.04, 1.04, 1.06, 1.06, 1.0, 0.92, 0.956];

// reference level and axis ticks
var refLevel = 2 / 3;
var refSpan = [0.01, 2.0];
var xMajorTicks = [0.1, 1];
var xMinorTicks = [0.02, 0.03, 0.04, 0.05, 0.06, 0.07, 0.08, 0.09, 0.2, 0.3, 0.4, 0.5, 0.6, 0.7, 0.8, 0.9];
var yMajorTicks = [1];
var yMinorTicks = [0.2, 0.3, 0.4, 0.5, 0.6, 0.7, 0.8, 0.9, 2, 3, 4, 5, 6, 7, 8, 9];
var xTickValues = [0.01, 0.1, 1, 2];
var xTickText = ['0.01', '0.1', '1.0', '2.0'];
var yTickValues = [0.1, 1, 10];
var yTickText = ['0.1', '1.0', '10'];

var FONT = '"Liberation Serif", "Times New Roman", serif';
var INK = '#231f20';
var ORANGE = '#f6a64b', ORANGE_DARK = '#f3a01e', SKY = '#8dd6f7', RED = '#ed1c24', NAVY = '#2e3192', GREEN = '#00a651';

var ETA = 'η = 2/3', ETABAR = 'η̄ = 2/3';

var panels = [
    { left: 92, top: 144, rows: recordedA, color: ORANGE, core: [coreALow, coreAHigh], mT: meanAPeriods, m: meanA, mColor: RED,
      lineName: 'Recorded data', meanName: 'Mean of recorded data', refName: ETA, xLabels: false, yLabels: true, tag: '(a)' },
    { left: 536, top: 144, rows: uncorrelatedB, color: SKY, core: [coreBLow, coreBHigh], mT: meanBPeriods, m: meanB, mColor: NAVY,
      lineName: 'Uncorrelated data', meanName: 'Mean of uncorrelated data', refName: ETABAR, xLabels: false, yLabels: false, tag: '(b)' },
    { left: 92, top: 433, rows: recordedC, color: ORANGE, core: [coreCLow, coreCHigh], mT: meanCPeriods, m: meanC, mColor: RED,
      lineName: 'Recorded data', meanName: 'Mean of recorded data', refName: ETA, xLabels: true, yLabels: true, tag: '(c)' },
    { left: 536, top: 433, rows: uncorrelatedD, color: SKY, core: [coreDLow, coreDHigh], mT: meanDPeriods, m: meanD, mColor: NAVY,
      lineName: 'Uncorrelated data', meanName: 'Mean of uncorrelated data', refName: ETABAR, xLabels: true, yLabels: false, tag: '(d)' }
];
var PW = 396, PH = 253;

function nearestText(v, vals, texts) {
    var best = 0;
    for (var i = 1; i < vals.length; i++) {
        if (Math.abs(Math.log(v / vals[i])) < Math.abs(Math.log(v / vals[best]))) best = i;
    }
    return texts[best];
}

function pairs(xs, ys) {
    return xs.map(function (x, i) { return [x, ys[i]]; });
}

var grids = [], xAxes = [], yAxes = [], series = [], graphics = [];

function xAxisCfg(grid, pos, ticks, len, line, labels) {
    var a = {
        type: 'log', logBase: 10, gridIndex: grid, position: pos, min: 0.01, max: 2,
        axisLine: { show: line, onZero: false, lineStyle: { color: INK, width: 1.5 } },
        axisTick: { show: true, inside: true, length: len, customValues: ticks, lineStyle: { color: INK, width: 1.2 } },
        axisLabel: { show: false },
        splitLine: { show: false }
    };
    if (labels) {
        a.axisLabel = {
            show: true, customValues: xTickValues, margin: 6,
            fontFamily: FONT, fontSize: 27, color: INK,
            formatter: function (v) {
                var s = nearestText(v, xTickValues, xTickText);
                return s === '0.01' ? '{m|' + s + '}' : s;
            },
            rich: { m: { padding: [0, 0, 0, 20], fontFamily: FONT, fontSize: 27, color: INK } }
        };
        a.name = 'Period (s)';
        a.nameLocation = 'middle';
        a.nameGap = 46;
        a.nameTextStyle = { fontFamily: FONT, fontSize: 28, color: INK, padding: [0, 0, 0, 14] };
    }
    return a;
}

function yAxisCfg(grid, pos, ticks, len, line, labels) {
    var a = {
        type: 'log', logBase: 10, gridIndex: grid, position: pos, min: 0.1, max: 10,
        axisLine: { show: line, onZero: false, lineStyle: { color: INK, width: 1.5 } },
        axisTick: { show: true, inside: true, length: len, customValues: ticks, lineStyle: { color: INK, width: 1.2 } },
        axisLabel: { show: false },
        splitLine: { show: false }
    };
    if (labels) {
        a.axisLabel = {
            show: true, customValues: yTickValues, margin: 7,
            fontFamily: FONT, fontSize: 27, color: INK,
            formatter: function (v) { return nearestText(v, yTickValues, yTickText); }
        };
    }
    return a;
}

// filled band between two curves, drawn with the panel's own scales
function bandSeries(i, low, high, color, name) {
    return {
        type: 'custom', name: name, xAxisIndex: i, yAxisIndex: i, silent: true, animation: false, z: 1, clip: true,
        data: [[periods[0], low[0]]],
        renderItem: function (params, api) {
            var pts = [];
            for (var k = 0; k < periods.length; k++) pts.push(api.coord([periods[k], high[k]]));
            for (var j = periods.length - 1; j >= 0; j--) pts.push(api.coord([periods[j], low[j]]));
            return { type: 'polygon', shape: { points: pts }, style: { fill: color } };
        }
    };
}

panels.forEach(function (p, i) {
    // main grid carries the data, the frame and the minor ticks
    grids[i] = { left: p.left, top: p.top, width: PW, height: PH };
    // an overlay grid at the same spot only carries the long decade ticks
    grids[i + 4] = { left: p.left, top: p.top, width: PW, height: PH };

    xAxes[i] = xAxisCfg(i, 'bottom', xMinorTicks, 7, true, p.xLabels);
    xAxes[i + 4] = xAxisCfg(i, 'top', xMinorTicks, 7, true, false);
    xAxes[i + 8] = xAxisCfg(i + 4, 'bottom', xMajorTicks, 15, false, false);
    xAxes[i + 12] = xAxisCfg(i + 4, 'top', xMajorTicks, 15, false, false);

    yAxes[i] = yAxisCfg(i, 'left', yMinorTicks, 7, true, p.yLabels);
    yAxes[i + 4] = yAxisCfg(i, 'right', yMinorTicks, 7, true, false);
    yAxes[i + 8] = yAxisCfg(i + 4, 'left', yMajorTicks, 15, false, false);
    yAxes[i + 12] = yAxisCfg(i + 4, 'right', yMajorTicks, 15, false, false);

    var base = { type: 'line', xAxisIndex: i, yAxisIndex: i, symbol: 'none', silent: true, animation: false };

    // dense middle of the bundle, where the curves overlap into a solid fill
    if (p.core) series.push(bandSeries(i, p.core[0], p.core[1], p.color, p.lineName));

    p.rows.forEach(function (row) {
        series.push(Object.assign({}, base, {
            name: p.lineName, z: 2, data: pairs(periods, row),
            lineStyle: { color: p.color, width: 2 }, itemStyle: { color: p.color }
        }));
    });
    if (i === 0) {
        series.push(Object.assign({}, base, {
            name: p.lineName, z: 3, data: pairs(periods, recordedAHighlight),
            lineStyle: { color: ORANGE_DARK, width: 2 }, itemStyle: { color: ORANGE_DARK }
        }));
    }

    series.push(Object.assign({}, base, {
        name: p.refName, z: 4, data: refSpan.map(function (t) { return [t, refLevel]; }),
        lineStyle: { color: GREEN, width: 5.5 }, itemStyle: { color: GREEN }
    }));
    series.push(Object.assign({}, base, {
        name: p.meanName, z: 5, data: pairs(p.mT, p.m),
        lineStyle: { color: p.mColor, width: 5.5, join: 'round' }, itemStyle: { color: p.mColor }
    }));

    graphics.push({
        type: 'text', x: p.left + PW - 13, y: p.top + 23, z: 10,
        style: { text: p.tag, font: '28px ' + FONT, fill: INK, align: 'right', verticalAlign: 'middle' }
    });
});

// y axis symbols; the bar over eta is a short stroke
graphics.push({ type: 'text', x: 20, y: 272, style: { text: 'η', font: 'italic 30px ' + FONT, fill: INK, align: 'center', verticalAlign: 'middle' } });
graphics.push({ type: 'text', x: 20, y: 562, style: { text: 'η', font: 'italic 30px ' + FONT, fill: INK, align: 'center', verticalAlign: 'middle' } });
graphics.push({ type: 'line', shape: { x1: 15, y1: 550, x2: 27, y2: 550 }, style: { stroke: INK, lineWidth: 1.6 } });
// bar over eta in the legend entry
graphics.push({ type: 'line', shape: { x1: 605, y1: 96, x2: 617, y2: 96 }, style: { stroke: INK, lineWidth: 1.6 } });
// legend frame
graphics.push({ type: 'rect', shape: { x: 92, y: 5, width: 854, height: 117 }, style: { fill: 'none', stroke: INK, lineWidth: 1.5 } });

// six single-item legends so each sample keeps its own thickness
var legendItems = [
    { name: 'Recorded data', color: ORANGE, h: 2, w: 48, left: 124, top: 16 },
    { name: 'Mean of recorded data', color: RED, h: 5, w: 48, left: 124, top: 54 },
    { name: ETA, color: GREEN, h: 5, w: 52, left: 121, top: 92 },
    { name: 'Uncorrelated data', color: SKY, h: 2, w: 48, left: 543, top: 16 },
    { name: 'Mean of uncorrelated data', color: NAVY, h: 5, w: 48, left: 543, top: 54 },
    { name: ETABAR, color: GREEN, h: 5, w: 52, left: 540, top: 92 }
];
var legends = legendItems.map(function (it) {
    return {
        left: it.left, top: it.top, padding: 0, itemWidth: it.w, itemHeight: it.h, selectedMode: false,
        data: [{ name: it.name, icon: 'rect', itemStyle: { color: it.color, borderWidth: 0 } }],
        formatter: function (name) {
            if (name === ETA || name === ETABAR) return '{i|η} = 2/3';
            return name;
        },
        textStyle: {
            fontFamily: FONT, fontSize: 29, color: INK, padding: [0, 0, 0, 6],
            rich: { i: { fontFamily: FONT, fontSize: 29, fontStyle: 'italic', color: INK } }
        }
    };
});

var chart = echarts.init(document.getElementById('main'), null, { renderer: 'canvas' });
chart.setOption({
    backgroundColor: '#ffffff',
    animation: false,
    legend: legends,
    grid: grids,
    xAxis: xAxes,
    yAxis: yAxes,
    series: series,
    graphic: graphics
});
window.addEventListener('resize', function () { chart.resize(); });
</script>
</body>
</html>
